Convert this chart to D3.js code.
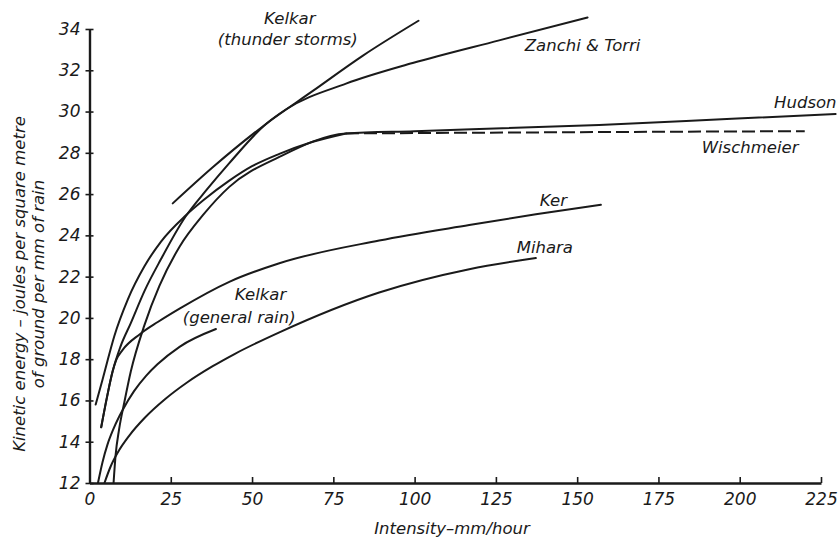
<!DOCTYPE html>
<html>
<head>
<meta charset="utf-8">
<script src="https://cdn.jsdelivr.net/npm/d3@7"></script>
<style>
  body { margin: 0; background: #fff; }
  svg { display: block; }
  text { font-family: "DejaVu Sans", sans-serif; font-style: italic; fill: #1a1a1a; }
</style>
</head>
<body>
<svg id="chart" width="840" height="543"></svg>
<script>
// ---- data ----
const xTicks = [0, 25, 50, 75, 100, 125, 150, 175, 200, 225];
const yTicks = [12, 14, 16, 18, 20, 22, 24, 26, 28, 30, 32, 34];

const kelkarThunderX = [25.6, 37.9, 54.3, 68.7, 84, 101.2];
const kelkarThunderY = [25.55, 27.3, 29.4, 31.0, 32.7, 34.4];

const zanchiX = [3.6, 5.3, 7.1, 9.5, 12.7, 16.9, 22, 29.5, 36, 43, 54.3, 60.4, 78.9, 99.4, 126, 153.2];
const zanchiY = [14.7, 16.1, 17.4, 18.6, 19.75, 21.3, 22.85, 24.9, 26.2, 27.5, 29.4, 30.1, 31.35, 32.35, 33.45, 34.56];

const hudsonX = [7.4, 8.0, 9.1, 10.7, 12.7, 16.9, 21.5, 27.7, 35, 43, 58.4, 78.9, 100, 156.8, 197.6, 229.5];
const hudsonY = [12, 13.3, 14.6, 15.9, 17.4, 19.65, 21.55, 23.45, 25.0, 26.35, 27.8, 28.94, 29.05, 29.35, 29.65, 29.88];

const wischmeierX = [1.9, 4, 5.5, 7.6, 11.8, 16.9, 22, 29.5, 35, 43, 50, 58.4, 68, 78.9, 150, 220];
const wischmeierY = [15.8, 17.0, 17.9, 19.1, 20.9, 22.5, 23.7, 24.95, 25.7, 26.65, 27.35, 27.95, 28.5, 28.94, 29.0, 29.05];
const wischmeierCap = 78.9; // beyond this intensity the curve is dashed

const kerX = [3.6, 5.3, 7.1, 8.2, 10.2, 15.4, 21, 27.7, 43, 58.4, 89.1, 116.8, 137.3, 157.3];
const kerY = [14.7, 16.1, 17.4, 17.95, 18.45, 19.2, 19.8, 20.45, 21.75, 22.65, 23.75, 24.5, 25.02, 25.48];

const miharaX = [4.6, 6.5, 8.7, 12.3, 17, 23.3, 30, 37.9, 44.6, 58.4, 89.1, 116.8, 137.3];
const miharaY = [12, 12.8, 13.48, 14.31, 15.16, 16.07, 16.87, 17.66, 18.25, 19.3, 21.23, 22.36, 22.9];

const kelkarGeneralX = [2.6, 4, 5.5, 7.2, 9.1, 10.2, 13.7, 17.4, 20.9, 27.7, 38.9];
const kelkarGeneralY = [12, 13.01, 13.85, 14.56, 15.21, 15.54, 16.45, 17.19, 17.75, 18.6, 19.46];

const curveLabels = ["Kelkar", "(thunder storms)", "Zanchi & Torri", "Hudson", "Wischmeier",
                     "Ker", "Mihara", "Kelkar", "(general rain)"];
const xTitle = "Intensity–mm/hour";
const yTitle1 = "Kinetic energy – joules per square metre";
const yTitle2 = "of ground per mm of rain";

// ---- drawing ----
const svg = d3.select("#chart");
const x = d3.scaleLinear().domain([0, 225]).range([89.5, 821]);
const y = d3.scaleLinear().domain([12, 34]).range([483, 29]);

const zip = (xs, ys) => xs.map((v, i) => [v, ys[i]]);
const line = d3.line().x(d => x(d[0])).y(d => y(d[1])).curve(d3.curveMonotoneX);

const solidSeries = [
  zip(kelkarThunderX, kelkarThunderY),
  zip(zanchiX, zanchiY),
  zip(hudsonX, hudsonY),
  zip(wischmeierX, wischmeierY).filter(d => d[0] <= wischmeierCap),
  zip(kerX, kerY),
  zip(miharaX, miharaY),
  zip(kelkarGeneralX, kelkarGeneralY)
];
const dashedSeries = [zip(wischmeierX, wischmeierY).filter(d => d[0] >= wischmeierCap)];

svg.append("g").selectAll("path").data(solidSeries).join("path")
  .attr("d", line).attr("fill", "none").attr("stroke", "#1a1a1a")
  .attr("stroke-width", 2).attr("stroke-linecap", "round");

svg.append("g").selectAll("path").data(dashedSeries).join("path")
  .attr("d", d3.line().x(d => x(d[0])).y(d => y(d[1])))
  .attr("fill", "none").attr("stroke", "#1a1a1a")
  .attr("stroke-width", 2).attr("stroke-dasharray", "13,5");

// axes
const yAxis = svg.append("g").attr("transform", `translate(${x(0)},0)`)
  .call(d3.axisLeft(y).tickValues(yTicks).tickSizeInner(4).tickSizeOuter(0).tickPadding(5));
yAxis.selectAll(".tick line").attr("x1", -4).attr("x2", 4).attr("stroke-width", 1.6);
yAxis.select(".domain").attr("stroke-width", 2.4);

const xAxis = svg.append("g").attr("transform", `translate(0,${y(12)})`)
  .call(d3.axisBottom(x).tickValues(xTicks).tickSizeInner(-6).tickSizeOuter(0).tickPadding(10));
xAxis.selectAll(".tick line").attr("stroke-width", 1.6);
xAxis.select(".domain").attr("stroke-width", 2.4);

svg.selectAll(".tick text")
  .attr("font-family", '"DejaVu Sans", sans-serif')
  .attr("font-style", "italic").attr("font-size", 17).attr("fill", "#1a1a1a");
svg.selectAll(".domain, .tick line").attr("stroke", "#1a1a1a");

// curve labels (positions in data units)
const labelPos = [
  [61.6, 34.24, "middle"], [61.0, 33.22, "middle"], [133.9, 32.93, "start"],
  [229.8, 30.17, "end"], [188.3, 27.99, "start"], [138.5, 25.42, "start"],
  [131.4, 23.15, "start"], [44.7, 20.87, "start"], [28.7, 19.75, "start"]
];
svg.append("g").selectAll("text").data(curveLabels).join("text")
  .attr("x", (d, i) => x(labelPos[i][0]))
  .attr("y", (d, i) => y(labelPos[i][1]))
  .attr("text-anchor", (d, i) => labelPos[i][2])
  .attr("font-size", 16.5)
  .text(d => d);

// axis titles
svg.append("text").attr("x", 452).attr("y", 534).attr("text-anchor", "middle")
  .attr("font-size", 16.5).text(xTitle);
svg.append("text").attr("transform", "translate(25,284) rotate(-90)")
  .attr("text-anchor", "middle").attr("font-size", 16.5).text(yTitle1);
svg.append("text").attr("transform", "translate(44,284) rotate(-90)")
  .attr("text-anchor", "middle").attr("font-size", 16.5).text(yTitle2);
</script>
</body>
</html>
